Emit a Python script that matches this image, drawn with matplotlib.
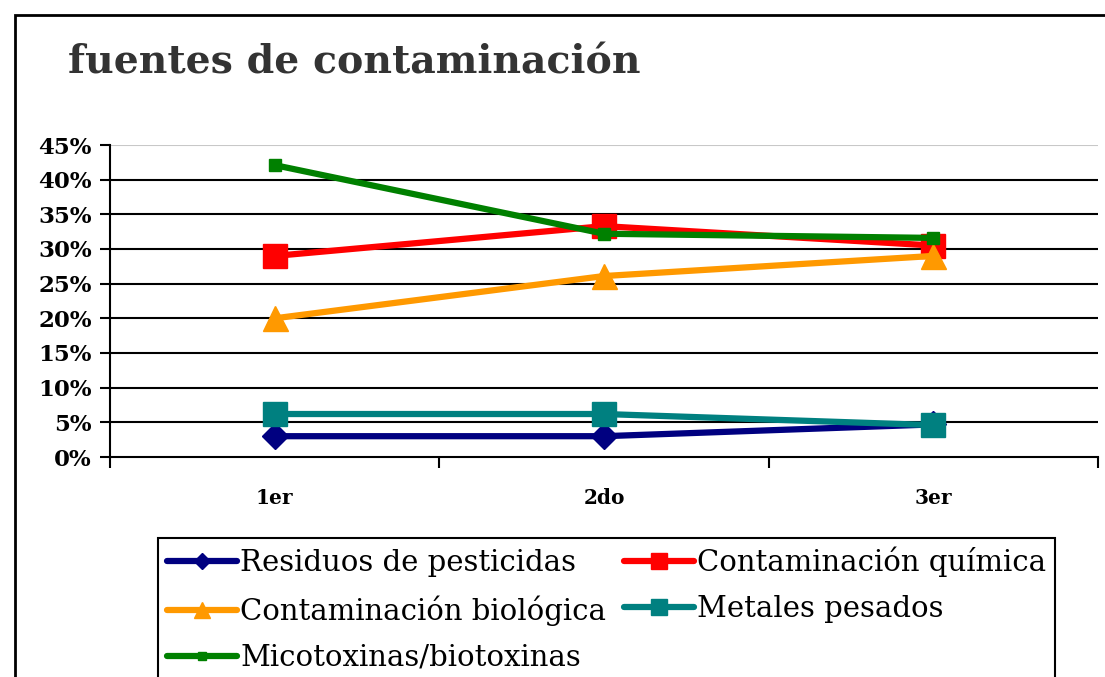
import numpy as np
import matplotlib as mpl
mpl.rcParams['font.family'] = 'DejaVu Serif'
import matplotlib.pyplot as plt
from matplotlib.patches import Rectangle
from matplotlib.ticker import FixedLocator, FuncFormatter

# data
categorias = ['1er', '2do', '3er']
residuos   = [0.030, 0.030, 0.047]
quimica    = [0.290, 0.333, 0.305]
biologica  = [0.200, 0.261, 0.290]
metales    = [0.062, 0.062, 0.046]
micotox    = [0.421, 0.322, 0.316]
nombres = ['Residuos de pesticidas', 'Contaminación química',
           'Contaminación biológica', 'Metales pesados',
           'Micotoxinas/biotoxinas']
colores = ['#000080', '#FF0000', '#FF9900', '#008080', '#008000']
marcas  = ['D', 's', '^', 's', 's']
tamanos = [13, 17, 18, 17, 9]
series  = [residuos, quimica, biologica, metales, micotox]

W, H = 1105, 677
fig = plt.figure(figsize=(W/100., H/100.), dpi=100, facecolor='w')
ax = fig.add_axes([110./W, (H-457.)/H, (1098.-110.)/W, (457.-145.)/H])

x = np.arange(len(categorias))
lineas = []
for s, c, m, ms, lab in zip(series, colores, marcas, tamanos, nombres):
    l, = ax.plot(x, s, color=c, lw=4.5, marker=m, ms=ms, mfc=c, mec=c,
                 label=lab, solid_capstyle='round', clip_on=False)
    lineas.append(l)

ax.set_xlim(-0.5, 2.5)
ax.set_ylim(0, 0.45)
yt = np.arange(0, 0.451, 0.05)
ax.set_yticks(yt)
ax.yaxis.set_major_formatter(FuncFormatter(lambda v, p: '%d%%' % round(v*100)))
for v in yt[1:-1]:
    ax.axhline(v, color='black', lw=1.5, zorder=0)
ax.axhline(0.45, color='#c8c8c8', lw=1.5, zorder=0)

ax.set_xticks([-0.5, 0.5, 1.5, 2.5])
ax.set_xticklabels([])
ax.xaxis.set_minor_locator(FixedLocator(x))
ax.set_xticklabels(categorias, minor=True)
ax.tick_params(axis='x', which='major', direction='out', length=8, width=1.5)
ax.tick_params(axis='x', which='minor', length=0, pad=22, labelsize=14.5)
ax.tick_params(axis='y', direction='out', length=7, width=1.5, labelsize=16.5, pad=6)
for t in ax.get_xticklabels(minor=True) + ax.get_yticklabels():
    t.set_fontweight('bold')

for sp in ['top', 'right']:
    ax.spines[sp].set_visible(False)
for sp in ['left', 'bottom']:
    ax.spines[sp].set_linewidth(1.5)

fig.text(68./W, (H-62.)/H, 'fuentes de contaminación', fontsize=28.4,
         fontweight='bold', color='#333333', va='center', ha='left')

# marco exterior
fig.add_artist(Rectangle((15./W, -0.2), 1.2, (H-15.)/H + 0.2,
                         transform=fig.transFigure, fill=False,
                         edgecolor='black', lw=2))

# orden por filas: matplotlib llena por columnas
orden = [0, 2, 4, 1, 3]
leg = fig.legend([lineas[i] for i in orden], [nombres[i] for i in orden],
                 loc='upper left', bbox_to_anchor=(158./W, (H-538.)/H),
                 ncol=2, fontsize=21, markerscale=0.65, handlelength=2.4,
                 handletextpad=0.12, columnspacing=0.6, labelspacing=0.62,
                 borderpad=0.3, borderaxespad=0., fancybox=False,
                 edgecolor='black', framealpha=1)
leg.get_frame().set_linewidth(1.5)

plt.savefig('out.png', dpi=100)
